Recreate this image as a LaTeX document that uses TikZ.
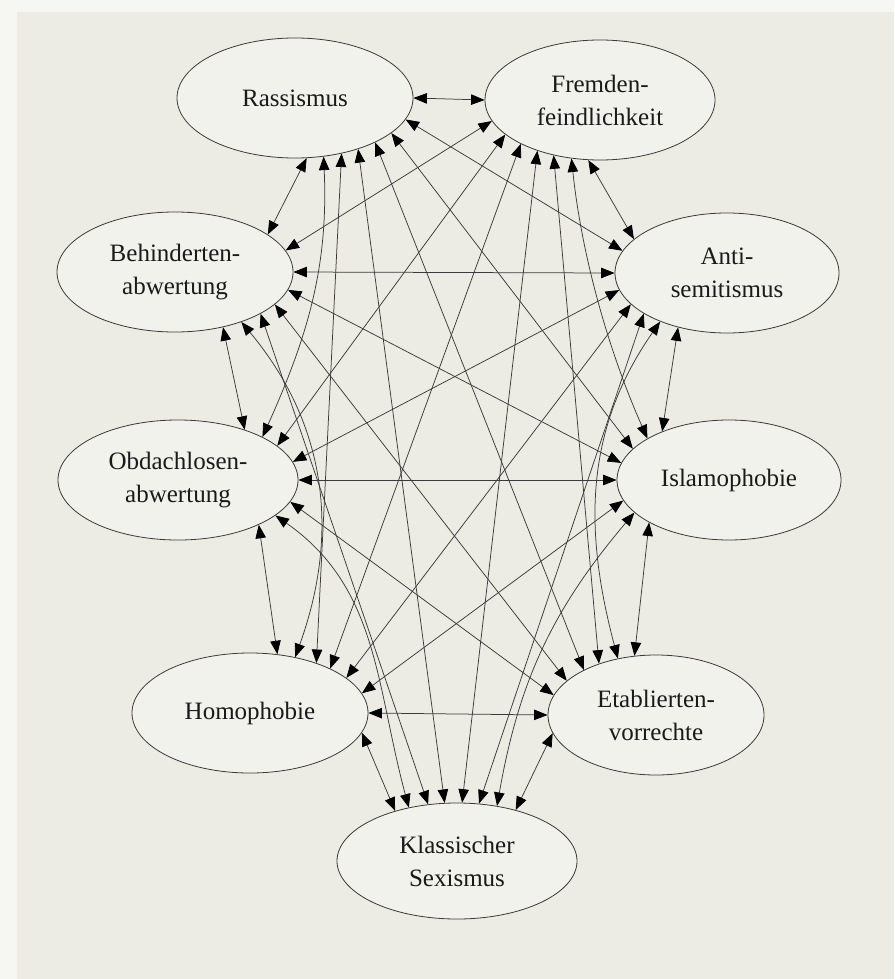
\documentclass[tikz,border=0pt]{standalone}
\usepackage{fontspec}
\setmainfont{Liberation Serif}
\usetikzlibrary{shapes.geometric,arrows.meta}
\definecolor{pageout}{HTML}{F6F6F2}
\definecolor{pagein}{HTML}{ECECE5}
\definecolor{ellfill}{HTML}{F2F2ED}
\definecolor{inkline}{HTML}{3A3A3A}
\definecolor{inktext}{HTML}{1A1A1A}
\begin{document}
\begin{tikzpicture}[x=1pt,y=-1pt,
  >={Triangle[length=13.5pt,width=10.5pt,color=black]},
  ell/.style={ellipse, draw=inkline, line width=0.8pt, fill=ellfill, inner sep=0pt,
    align=center, font=\fontsize{25}{33}\selectfont, text=inktext},
  link/.style={<->, draw=inkline, line width=0.75pt}]
\useasboundingbox (0,0) rectangle (894,979);
\fill[pageout] (0,0) rectangle (894,979);
\fill[pagein] (17,12) rectangle (894,979);

\node[ell, minimum width=236pt, minimum height=120pt] (R) at (295,98) {Rassismus};
\node[ell, minimum width=230pt, minimum height=120pt] (F) at (600,100) {Fremden-\\feindlichkeit};
\node[ell, minimum width=236pt, minimum height=120pt] (B) at (175,272) {Behinderten-\\abwertung};
\node[ell, minimum width=224pt, minimum height=120pt] (A) at (727,273) {Anti-\\semitismus};
\node[ell, minimum width=240pt, minimum height=120pt] (O) at (178,480) {Obdachlosen-\\abwertung};
\node[ell, minimum width=224pt, minimum height=120pt] (I) at (729,480) {Islamophobie};
\node[ell, minimum width=236pt, minimum height=120pt] (H) at (250,713) {Homophobie};
\node[ell, minimum width=216pt, minimum height=120pt] (E) at (656,715) {Etablierten-\\vorrechte};
\node[ell, minimum width=240pt, minimum height=116pt] (K) at (457,861) {Klassischer\\Sexismus};

\draw[link] (R.0) -- (F.180);
\draw[link] (R.-79) -- (B.22);
\draw[link] (R.-11) -- (A.168);
\draw[link] (R.-64) .. controls +(5,110) and +(45,-100) .. (O.27);
\draw[link] (R.-20) -- (I.162);
\draw[link] (R.-29) -- (E.148);
\draw[link] (R.-39) -- (K.102);
\draw[link] (R.-50) -- (H.37);
\draw[link] (F.191) -- (B.11);
\draw[link] (F.259) -- (A.160);
\draw[link] (F.200) -- (O.19);
\draw[link] (F.244) .. controls +(10,95) and +(-40,-90) .. (I.153);
\draw[link] (F.230) -- (E.138);
\draw[link] (F.219) -- (K.85);
\draw[link] (F.209) -- (H.29);
\draw[link] (B.0) -- (A.180);
\draw[link] (B.-49) -- (O.37);
\draw[link] (B.-9) -- (I.171);
\draw[link] (B.-18) -- (E.159);
\draw[link] (B.-26) -- (K.117);
\draw[link] (B.-37) .. controls +(85,102) and +(45,-125) .. (H.51);
\draw[link] (A.189) -- (O.9);
\draw[link] (A.228) -- (I.144);
\draw[link] (A.216) .. controls +(-76,109) and +(-34,-128) .. (E.124);
\draw[link] (A.206) -- (K.69);
\draw[link] (A.198) -- (H.20);
\draw[link] (O.0) -- (I.180);
\draw[link] (O.-11) -- (E.169);
\draw[link] (O.-20) .. controls +(103,72) and +(-33,-122) .. (K.132);
\draw[link] (O.-29) -- (H.65);
\draw[link] (I.208) -- (E.110);
\draw[link] (I.199) .. controls +(-82,97) and +(22,-125) .. (K.54);
\draw[link] (I.191) -- (H.10);
\draw[link] (E.180) -- (H.0);
\draw[link] (E.190) -- (K.41);
\draw[link] (H.-10) -- (K.141);
\end{tikzpicture}
\end{document}
